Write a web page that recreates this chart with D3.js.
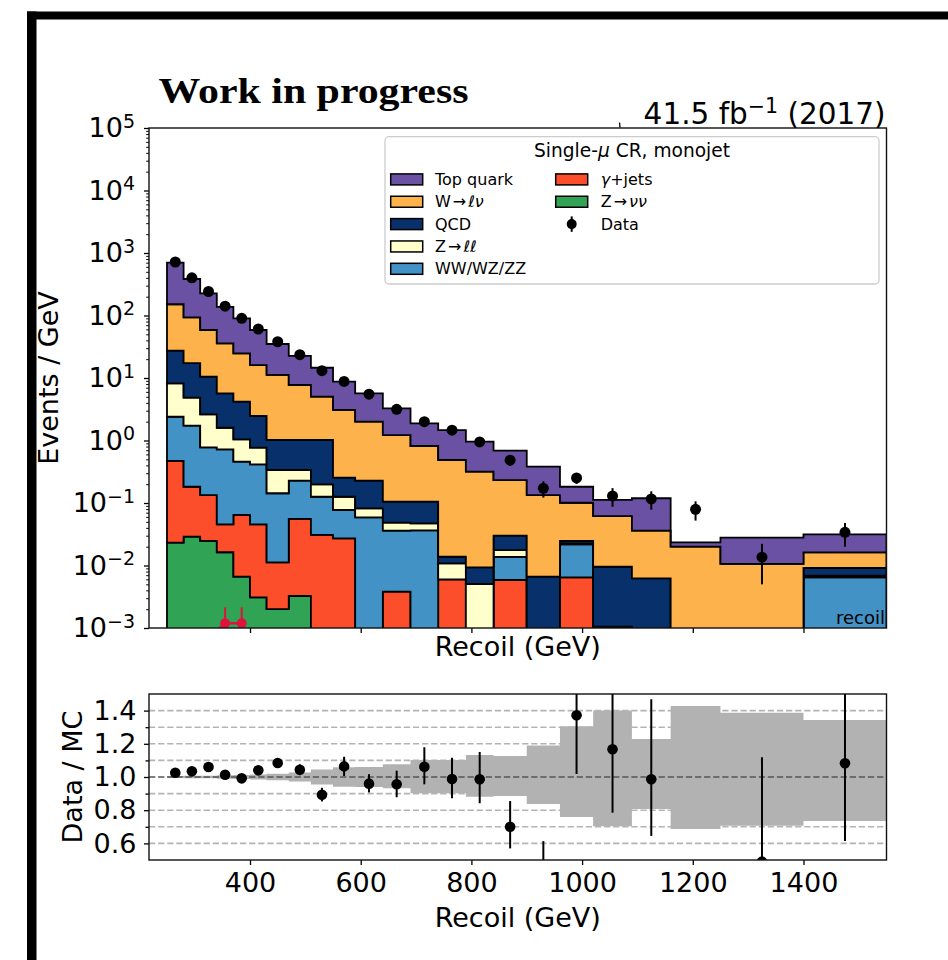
<!DOCTYPE html>
<html>
<head>
<meta charset="utf-8">
<script src="https://cdn.jsdelivr.net/npm/d3@7"></script>
<style>
  body { margin: 0; background: #fff; }
  svg { display: block; }
  text { font-family: "DejaVu Sans", sans-serif; fill: #000; }
</style>
</head>
<body>
<svg id="chart" width="948" height="960"></svg>
<script>
// Recoil binning (GeV)
const binEdges = [250, 280, 310, 340, 370, 400, 430, 470, 510, 550, 590, 640, 690, 740, 790, 840, 900, 960, 1020, 1090, 1160, 1250, 1400, 1550];

// Per-process expectations (events / GeV), stacked bottom to top
const zNuNu  = [0.0232, 0.0289, 0.0247, 0.0163, 0.00662, 0.0031, 0.00201, 0.00325, 0, 0, 0, 0, 0, 0, 0, 0, 0, 0, 0, 0, 0, 0, 0];
const gammaJets = [0.447, 0.153, 0.109, 0.0293, 0.0577, 0.0425, 0.0092, 0.0523, 0.0308, 0.0272, 0, 0.00381, 0, 0.00601, 0, 0.00586, 0, 0.00647, 0, 0, 0, 0, 0];
const diboson = [1.93, 1.548, 0.644, 0.677, 0.394, 0.370, 0.132, 0.172, 0.095, 0.0501, 0.059, 0.0322, 0.0366, 0, 0, 0.0079, 0, 0.0153, 0.00105, 0, 0, 0, 0.00647];
const zLL    = [5.82, 3.11, 1.84, 0.877, 0.582, 0.351, 0.194, 0.110, 0.073, 0.0487, 0.0232, 0.0124, 0.0107, 0.0048, 0.00506, 0.0039, 0, 0.0007, 0, 0, 0, 0, 0.0004];
const qcd    = [19.1, 12.4, 7.88, 4.09, 3.14, 1.70, 0.683, 0.683, 0.821, 0.128, 0.145, 0.0566, 0.0577, 0.003, 0.0043, 0.0123, 0.00662, 0.0022, 0.0085, 0.00624, 0, 0, 0.0023];
const wLNu   = [124, 76.4, 48.1, 30.2, 20.6, 13.6, 10.2, 6.71, 4.0, 2.83, 1.77, 1.115, 0.712, 0.474, 0.308, 0.203, 0.127, 0.0763, 0.0523, 0.0299, 0.020, 0.0106, 0.0071];
const topQuark = [549, 290, 167, 102, 65.4, 42.5, 23.8, 14.8, 9.58, 5.65, 3.69, 2.05, 1.06, 0.982, 0.64, 0.454, 0.247, 0.081, 0.0501, 0.0829, 0.0035, 0.0173, 0.0153];

// Observed data (events / GeV) and uncertainties
const dataValues = [718, 400, 242, 141, 90, 60.8, 38, 23.6, 13.1, 8.8, 5.5, 3.15, 2.0, 1.46, 0.95, 0.485, 0.172, 0.252, 0.13, 0.116, 0.0793, 0.0136, 0.034];
const dataErrors = [9, 3.7, 2.8, 2.2, 1.7, 1.4, 0.97, 0.77, 0.57, 0.42, 0.33, 0.25, 0.2, 0.17, 0.14, 0.09, 0.05, 0.05, 0.043, 0.038, 0.027, 0.0086, 0.014];

// Extra crimson series near the bottom of the range
const extraValues = [null, null, 0.0007, 0.00119, 0.00119, null, null, null, null, null, null, null, null, null, null, null, null, null, null, null, null, null, null];
const extraErrors = [null, null, 0.00032, 0.00095, 0.00095, null, null, null, null, null, null, null, null, null, null, null, null, null, null, null, null, null, null];

// Ratio panel: data / MC with asymmetric errors, and the MC uncertainty band
const ratioValues = [1.026, 1.034, 1.06, 1.014, 0.992, 1.04, 1.084, 1.044, 0.893, 1.064, 0.96, 0.956, 1.062, 0.988, 0.986, 0.70, 0.46, 1.372, 1.167, 0.986, 3.37, 0.49, 1.083];
const ratioErrUp   = [0.01, 0.012, 0.015, 0.017, 0.02, 0.024, 0.028, 0.033, 0.042, 0.058, 0.057, 0.082, 0.117, 0.128, 0.165, 0.155, 0.154, 0.42, 0.45, 0.482, 1.3, 0.629, 0.6];
const ratioErrDown = [0.01, 0.012, 0.015, 0.017, 0.02, 0.024, 0.028, 0.033, 0.04, 0.058, 0.053, 0.078, 0.106, 0.116, 0.144, 0.13, 0.14, 0.354, 0.382, 0.341, 1.0, 0.45, 0.469];
const mcBandUp   = [0.006, 0.007, 0.008, 0.01, 0.012, 0.015, 0.019, 0.027, 0.045, 0.058, 0.06, 0.077, 0.102, 0.102, 0.133, 0.126, 0.19, 0.305, 0.40, 0.229, 0.428, 0.387, 0.343];
const mcBandDown = [0.006, 0.007, 0.008, 0.01, 0.012, 0.015, 0.019, 0.027, 0.045, 0.058, 0.06, 0.068, 0.098, 0.098, 0.119, 0.115, 0.163, 0.241, 0.297, 0.193, 0.313, 0.293, 0.265];

// Axis ticks
const xTicks = [400, 600, 800, 1000, 1200, 1400];
const yExponents = [-3, -2, -1, 0, 1, 2, 3, 4, 5];
const ratioMajorTicks = [0.6, 0.8, 1.0, 1.2, 1.4];
const ratioMinorTicks = [0.7, 0.9, 1.1, 1.3];
const ratioGrid = [0.6, 0.7, 0.8, 0.9, 1.1, 1.2, 1.3, 1.4];

const processes = [
  { label: "Z → νν", values: zNuNu, color: "#31a354" },
  { label: "γ+jets", values: gammaJets, color: "#fc4e2a" },
  { label: "WW/WZ/ZZ", values: diboson, color: "#4292c6" },
  { label: "Z → ℓℓ", values: zLL, color: "#ffffcc" },
  { label: "QCD", values: qcd, color: "#08306b" },
  { label: "W → ℓν", values: wLNu, color: "#feb24c" },
  { label: "Top quark", values: topQuark, color: "#6a51a3" }
];

const nBins = binEdges.length - 1;
const centers = d3.range(nBins).map(i => (binEdges[i] + binEdges[i + 1]) / 2);

const svg = d3.select("#chart");
svg.append("rect").attr("width", 948).attr("height", 960).attr("fill", "#fff");

// Frame bars
svg.append("rect").attr("x", 27).attr("y", 11.5).attr("width", 921).attr("height", 8).attr("fill", "#000");
svg.append("rect").attr("x", 27).attr("y", 11.5).attr("width", 9.5).attr("height", 950).attr("fill", "#000");

// Geometry
const L = 149, R = 886.5;
const top1 = 128, bot1 = 628;
const top2 = 694, bot2 = 860;

const x = d3.scaleLinear().domain([217.5, 1550]).range([L, R]);
const y = d3.scaleLog().domain([1e-3, 1e5]).range([bot1, top1]);
const yr = d3.scaleLinear().domain([0.5, 1.5]).range([bot2, top2]);
const yc = v => y(Math.max(v, 1e-7));

const defs = svg.append("defs");
defs.append("clipPath").attr("id", "clipMain")
  .append("rect").attr("x", L).attr("y", top1).attr("width", R - L).attr("height", bot1 - top1);
defs.append("clipPath").attr("id", "clipRatio")
  .append("rect").attr("x", L).attr("y", top2).attr("width", R - L).attr("height", bot2 - top2);

// ---------- Main panel ----------
const main = svg.append("g").attr("clip-path", "url(#clipMain)");

let lower = new Array(nBins).fill(0);
const layers = processes.map(p => {
  const upper = lower.map((v, i) => v + p.values[i]);
  const layer = { ...p, lower, upper };
  lower = upper;
  return layer;
});

function stepPath(lo, up) {
  let p = `M${x(binEdges[0])},${yc(lo[0])}`;
  for (let i = 0; i < nBins; i++) p += `V${yc(up[i])}H${x(binEdges[i + 1])}`;
  for (let i = nBins - 1; i >= 0; i--) p += `V${yc(lo[i])}H${x(binEdges[i])}`;
  return p + "Z";
}

main.selectAll("path.layer").data(layers).join("path")
  .attr("class", "layer")
  .attr("d", d => stepPath(d.lower, d.upper))
  .attr("fill", d => d.color)
  .attr("stroke", "#000")
  .attr("stroke-width", 1.8)
  .attr("stroke-linejoin", "miter");

// Crimson series
const extraPts = d3.range(nBins).filter(i => extraValues[i] !== null)
  .map(i => ({ cx: x(centers[i]), v: extraValues[i], e: extraErrors[i] }));
main.append("path")
  .attr("d", d3.line().x(d => d.cx).y(d => y(d.v))(extraPts))
  .attr("fill", "none").attr("stroke", "crimson").attr("stroke-width", 2.5);
main.selectAll("line.extraErr").data(extraPts).join("line")
  .attr("x1", d => d.cx).attr("x2", d => d.cx)
  .attr("y1", d => yc(d.v - d.e)).attr("y2", d => y(d.v + d.e))
  .attr("stroke", "crimson").attr("stroke-width", 2);
main.selectAll("circle.extra").data(extraPts).join("circle")
  .attr("cx", d => d.cx).attr("cy", d => y(d.v)).attr("r", 5)
  .attr("fill", "crimson");

// Data points
const dataPts = d3.range(nBins).map(i => ({ cx: x(centers[i]), v: dataValues[i], e: dataErrors[i] }));
main.selectAll("line.dataErr").data(dataPts).join("line")
  .attr("x1", d => d.cx).attr("x2", d => d.cx)
  .attr("y1", d => yc(d.v - d.e)).attr("y2", d => y(d.v + d.e))
  .attr("stroke", "#000").attr("stroke-width", 2);
main.selectAll("circle.data").data(dataPts).join("circle")
  .attr("cx", d => d.cx).attr("cy", d => y(d.v)).attr("r", 5.5).attr("fill", "#000");

// Variable tag
main.append("text").attr("x", 885).attr("y", 624).attr("text-anchor", "end")
  .attr("font-size", 18).text("recoil");

// Main axes
function styleAxis(g, fs) {
  g.attr("font-family", "DejaVu Sans").attr("font-size", fs);
  g.select(".domain").remove();
  g.selectAll(".tick line").attr("stroke", "#000").attr("stroke-width", 1.3);
  g.selectAll(".tick text").attr("fill", "#000");
}

const yAxisG = svg.append("g").attr("transform", `translate(${L},0)`)
  .call(d3.axisLeft(y).tickValues(yExponents.map(e => Math.pow(10, e))).tickSize(5).tickPadding(9).tickFormat(() => ""));
styleAxis(yAxisG, 27);
yAxisG.selectAll(".tick text").each(function (d) {
  const t = d3.select(this);
  const e = Math.round(Math.log10(d));
  t.text(null);
  t.append("tspan").text("10");
  t.append("tspan").attr("font-size", 19).attr("dy", -9.5).text(e < 0 ? "\u2212" + (-e) : String(e));
});

const yMinor = [];
yExponents.slice(0, -1).forEach(e => { for (let k = 2; k <= 9; k++) yMinor.push(k * Math.pow(10, e)); });
const yMinorG = svg.append("g").attr("transform", `translate(${L},0)`)
  .call(d3.axisLeft(y).tickValues(yMinor).tickSize(2.8).tickFormat(() => ""));
styleAxis(yMinorG, 10);
yMinorG.selectAll(".tick line").attr("stroke-width", 1);

const xAxisMain = svg.append("g").attr("transform", `translate(0,${bot1})`)
  .call(d3.axisBottom(x).tickValues(xTicks).tickSize(5).tickFormat(() => ""));
styleAxis(xAxisMain, 10);

svg.append("rect").attr("x", L).attr("y", top1).attr("width", R - L).attr("height", bot1 - top1)
  .attr("fill", "none").attr("stroke", "#111").attr("stroke-width", 1.4);
svg.append("path").attr("d", "M619.5,122.5L620,127.5").attr("stroke", "#000").attr("stroke-width", 1.3);

svg.append("text").attr("x", (L + R) / 2).attr("y", 655.5).attr("text-anchor", "middle")
  .attr("font-size", 27).text("Recoil (GeV)");
svg.append("text").attr("transform", `translate(58,${(top1 + bot1) / 2}) rotate(-90)`)
  .attr("text-anchor", "middle").attr("font-size", 27).text("Events / GeV");

// Header texts
svg.append("text").attr("x", 158.5).attr("y", 103)
  .style("font-family", "'Liberation Serif', serif").attr("font-weight", "bold")
  .attr("font-size", 36).attr("textLength", 310).attr("lengthAdjust", "spacingAndGlyphs")
  .text("Work in progress");
const lumi = svg.append("text").attr("x", R - 1).attr("y", 124).attr("text-anchor", "end").attr("font-size", 29.5);
lumi.append("tspan").text("41.5 fb");
lumi.append("tspan").attr("font-size", 20.5).attr("dy", -11).text("\u22121");
lumi.append("tspan").attr("dy", 11).text(" (2017)");

// Legend
const leg = svg.append("g");
leg.append("rect").attr("x", 385).attr("y", 136.7).attr("width", 494).attr("height", 147.3)
  .attr("rx", 4).attr("fill", "#fff").attr("fill-opacity", 0.85)
  .attr("stroke", "#cccccc").attr("stroke-width", 1.3);
const legTitle = leg.append("text").attr("x", 632).attr("y", 157.3).attr("text-anchor", "middle").attr("font-size", 18.6);
legTitle.append("tspan").text("Single-");
legTitle.append("tspan").attr("font-style", "italic").text("μ");
legTitle.append("tspan").text(" CR, monojet");

const rowY = i => 179.4 + i * 22.35;
const legendEntries = [
  { col: 0, row: 0, color: "#6a51a3", parts: [["Top quark"]] },
  { col: 0, row: 1, color: "#feb24c", parts: [["W"], ["→", 2], ["ℓν", 2, true]] },
  { col: 0, row: 2, color: "#08306b", parts: [["QCD"]] },
  { col: 0, row: 3, color: "#ffffcc", parts: [["Z"], ["→", 2], ["ℓℓ", 2, true]] },
  { col: 0, row: 4, color: "#4292c6", parts: [["WW/WZ/ZZ"]] },
  { col: 1, row: 0, color: "#fc4e2a", parts: [["γ", 0, true], ["+jets"]] },
  { col: 1, row: 1, color: "#31a354", parts: [["Z"], ["→", 2], ["νν", 2, true]] }
];
const colPatchX = [390.7, 555.7], colTextX = [435, 600.7];
legendEntries.forEach(en => {
  const cy = rowY(en.row);
  leg.append("rect").attr("x", colPatchX[en.col]).attr("y", cy - 5.5).attr("width", 32).attr("height", 11)
    .attr("fill", en.color).attr("stroke", "#000").attr("stroke-width", 1.5);
  const t = leg.append("text").attr("x", colTextX[en.col]).attr("y", cy + 5.6).attr("font-size", 16);
  en.parts.forEach(([s, dx, it]) => {
    const ts = t.append("tspan").text(s);
    if (dx) ts.attr("dx", dx);
    if (it) ts.attr("font-style", "italic");
  });
});
{
  const cy = rowY(2), cx = 571.7;
  leg.append("line").attr("x1", cx).attr("x2", cx).attr("y1", cy - 7.7).attr("y2", cy + 7.7)
    .attr("stroke", "#000").attr("stroke-width", 2);
  leg.append("circle").attr("cx", cx).attr("cy", cy).attr("r", 5).attr("fill", "#000");
  leg.append("text").attr("x", colTextX[1]).attr("y", cy + 5.6).attr("font-size", 16).text("Data");
}

// ---------- Ratio panel ----------
const ratio = svg.append("g").attr("clip-path", "url(#clipRatio)");

ratio.selectAll("line.grid").data(ratioGrid).join("line")
  .attr("x1", L).attr("x2", R).attr("y1", d => yr(d)).attr("y2", d => yr(d))
  .attr("stroke", "#b4b4b4").attr("stroke-width", 1.6).attr("stroke-dasharray", "6.3,2.8");

const bandPts = d3.range(nBins).map(i => ({ x: binEdges[i], up: mcBandUp[i], dn: mcBandDown[i] }));
bandPts.push({ x: binEdges[nBins], up: mcBandUp[nBins - 1], dn: mcBandDown[nBins - 1] });
ratio.append("path")
  .attr("d", d3.area().curve(d3.curveStepAfter)
    .x(d => x(d.x)).y0(d => yr(1 - d.dn)).y1(d => yr(1 + d.up))(bandPts))
  .attr("fill", "#b2b2b2");

ratio.append("line").attr("x1", L).attr("x2", R).attr("y1", yr(1)).attr("y2", yr(1))
  .attr("stroke", "#555").attr("stroke-width", 1.7).attr("stroke-dasharray", "6.3,2.8");

const ratioPts = d3.range(nBins).map(i => ({ cx: x(centers[i]), v: ratioValues[i], up: ratioErrUp[i], dn: ratioErrDown[i] }));
ratio.selectAll("line.rErr").data(ratioPts).join("line")
  .attr("x1", d => d.cx).attr("x2", d => d.cx)
  .attr("y1", d => yr(d.v - d.dn)).attr("y2", d => yr(d.v + d.up))
  .attr("stroke", "#000").attr("stroke-width", 2);
ratio.selectAll("circle.r").data(ratioPts).join("circle")
  .attr("cx", d => d.cx).attr("cy", d => yr(d.v)).attr("r", 5.3).attr("fill", "#000");

const yrAxis = svg.append("g").attr("transform", `translate(${L},0)`)
  .call(d3.axisLeft(yr).tickValues(ratioMajorTicks).tickSize(5).tickPadding(7.5).tickFormat(d3.format(".1f")));
styleAxis(yrAxis, 27);
const yrMinor = svg.append("g").attr("transform", `translate(${L},0)`)
  .call(d3.axisLeft(yr).tickValues(ratioMinorTicks).tickSize(3.5).tickFormat(() => ""));
styleAxis(yrMinor, 10);

const xrAxis = svg.append("g").attr("transform", `translate(0,${bot2})`)
  .call(d3.axisBottom(x).tickValues(xTicks).tickSize(5).tickPadding(8.3).tickFormat(d3.format("d")));
styleAxis(xrAxis, 27);

svg.append("rect").attr("x", L).attr("y", top2).attr("width", R - L).attr("height", bot2 - top2)
  .attr("fill", "none").attr("stroke", "#111").attr("stroke-width", 1.4);

svg.append("text").attr("x", (L + R) / 2).attr("y", 926.5).attr("text-anchor", "middle")
  .attr("font-size", 27).text("Recoil (GeV)");
svg.append("text").attr("transform", `translate(82,${(top2 + bot2) / 2}) rotate(-90)`)
  .attr("text-anchor", "middle").attr("font-size", 27).text("Data / MC");
</script>
</body>
</html>
